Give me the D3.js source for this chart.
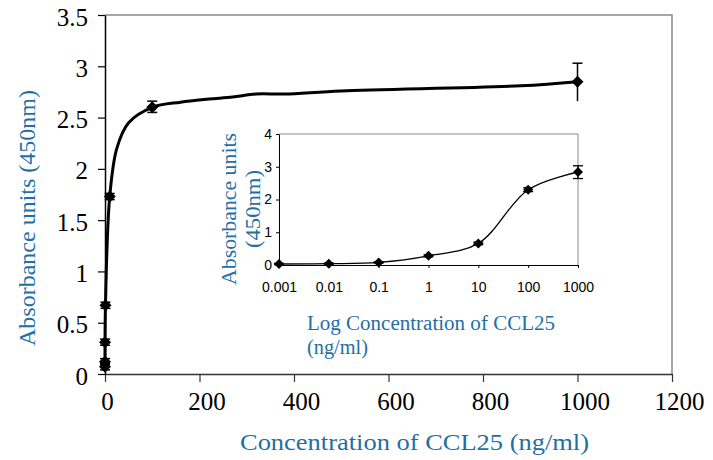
<!DOCTYPE html>
<html>
<head>
<meta charset="utf-8">
<script src="https://cdn.jsdelivr.net/npm/d3@7"></script>
<style>
  body { margin: 0; background: #fff; }
  svg { display: block; }
  .serif { font-family: 'Liberation Serif', 'Times New Roman', Times, 'DejaVu Serif', serif; }
  .sans { font-family: 'Liberation Sans', Arial, Helvetica, sans-serif; }
</style>
</head>
<body>
<svg id="chart" width="713" height="460"></svg>
<script>
// CCL25 standard curve, main plot + log inset

// main plot data
var mainConc  = [0.001, 0.01, 0.1, 1, 10, 100, 1000];
var mainAbs   = [0.07, 0.12, 0.31, 0.67, 1.73, 2.6, 2.85];
var mainErrHi = [0.03, 0.03, 0.03, 0.03, 0.03, 0.06, 0.18];
var mainErrLo = [0.03, 0.03, 0.03, 0.03, 0.03, 0.05, 0.19];

// smoothed trend line of main plot
var fitConc = [0, 1, 10, 25, 50, 100, 160, 220, 270, 320, 380, 500, 880, 1000];
var fitAbs  = [0.07, 0.67, 1.73, 2.2, 2.45, 2.6, 2.65, 2.68, 2.70, 2.73, 2.73, 2.76, 2.81, 2.85];

// inset (log scale) data
var insetConc  = [0.001, 0.01, 0.1, 1, 10, 100, 1000];
var insetAbs   = [0.03, 0.04, 0.08, 0.28, 0.66, 2.3, 2.84];
var insetErrHi = [0.02, 0.02, 0.02, 0.03, 0.04, 0.06, 0.19];
var insetErrLo = [0.02, 0.02, 0.02, 0.03, 0.04, 0.06, 0.20];

var mainXTicks  = [0, 200, 400, 600, 800, 1000, 1200];
var mainYTicks  = [0, 0.5, 1, 1.5, 2, 2.5, 3, 3.5];
var insetXTicks = [0.001, 0.01, 0.1, 1, 10, 100, 1000];
var insetXLabels = ['0.001', '0.01', '0.1', '1', '10', '100', '1000'];
var insetYTicks = [0, 1, 2, 3, 4];

var BLUE = '#1f6fa6';

var svg = d3.select('#chart');

function zipData(xs, ys, hi, lo) {
  return xs.map(function(x, i) {
    return { x: x, y: ys[i], hi: hi ? hi[i] : 0, lo: lo ? lo[i] : 0 };
  });
}

function diamond(g, pts, x, y, r) {
  g.selectAll('path.mk').data(pts).enter().append('path')
    .attr('class', 'mk')
    .attr('d', function(d) {
      var cx = x(d.x), cy = y(d.y);
      return 'M' + cx + ',' + (cy - r) + 'L' + (cx + r) + ',' + cy +
             'L' + cx + ',' + (cy + r) + 'L' + (cx - r) + ',' + cy + 'Z';
    })
    .attr('fill', '#000');
}

function errorBars(g, pts, x, y, cap, sw, topOnly) {
  var eb = g.selectAll('g.eb').data(pts).enter().append('g').attr('class', 'eb')
    .attr('stroke', '#000').attr('stroke-width', sw);
  eb.append('line')
    .attr('x1', function(d) { return x(d.x); }).attr('x2', function(d) { return x(d.x); })
    .attr('y1', function(d) { return y(d.y + d.hi); }).attr('y2', function(d) { return y(d.y - d.lo); });
  eb.append('line')
    .attr('x1', function(d) { return x(d.x) - cap; }).attr('x2', function(d) { return x(d.x) + cap; })
    .attr('y1', function(d) { return y(d.y + d.hi); }).attr('y2', function(d) { return y(d.y + d.hi); });
  eb.filter(function(d, i) { return !topOnly || i < pts.length - 1; }).append('line')
    .attr('x1', function(d) { return x(d.x) - cap; }).attr('x2', function(d) { return x(d.x) + cap; })
    .attr('y1', function(d) { return y(d.y - d.lo); }).attr('y2', function(d) { return y(d.y - d.lo); });
}

// ---------- main plot ----------
var mx = d3.scaleLinear().domain([0, 1200]).range([105, 672]);
var my = d3.scaleLinear().domain([0, 3.5]).range([374, 15]);

var main = svg.append('g').attr('class', 'main');

// top + right frame (grey)
main.append('path')
  .attr('d', 'M' + mx(0) + ',' + my(3.5) + 'H' + mx(1200) + 'V' + my(0))
  .attr('fill', 'none').attr('stroke', '#8a8a8a').attr('stroke-width', 1.5);

var xAxis = main.append('g').attr('transform', 'translate(0,' + my(0) + ')')
  .call(d3.axisBottom(mx).tickValues(mainXTicks).tickSize(8).tickPadding(10).tickSizeOuter(0)
    .tickFormat(d3.format('d')));
xAxis.attr('font-family', null);
xAxis.select('.domain').attr('stroke', '#333').attr('stroke-width', 1.5);
xAxis.selectAll('.tick line').attr('stroke', '#333').attr('stroke-width', 1.2);
xAxis.selectAll('.tick text')
  .attr('class', 'serif').attr('font-size', 25).attr('fill', '#000')
  .attr('dx', function(d) { return d === 0 ? 2 : 7; });

var yAxis = main.append('g').attr('transform', 'translate(' + mx(0) + ',0)')
  .call(d3.axisLeft(my).tickValues(mainYTicks).tickSize(7).tickPadding(10).tickSizeOuter(0)
    .tickFormat(function(d) { return String(d); }));
yAxis.attr('font-family', null);
yAxis.select('.domain').attr('stroke', '#000').attr('stroke-width', 1.5);
yAxis.selectAll('.tick line').attr('stroke', '#000').attr('stroke-width', 1.2);
yAxis.selectAll('.tick text')
  .attr('class', 'serif').attr('font-size', 25).attr('fill', '#000').attr('dy', '0.4em');

// trend line
var fitLine = d3.line()
  .x(function(d) { return mx(d.x); })
  .y(function(d) { return my(d.y); })
  .curve(d3.curveCatmullRom.alpha(0.5));
main.append('path')
  .datum(zipData(fitConc, fitAbs))
  .attr('d', fitLine)
  .attr('fill', 'none').attr('stroke', '#000').attr('stroke-width', 3);

var mainPts = zipData(mainConc, mainAbs, mainErrHi, mainErrLo);
errorBars(main, mainPts, mx, my, 5, 1.5, true);
diamond(main, mainPts, mx, my, 6);

// axis titles
main.append('text')
  .attr('class', 'serif')
  .attr('x', 240).attr('y', 450)
  .attr('textLength', 349).attr('lengthAdjust', 'spacingAndGlyphs')
  .attr('font-size', 24).attr('fill', BLUE)
  .text('Concentration of CCL25 (ng/ml)');

main.append('text')
  .attr('class', 'serif')
  .attr('transform', 'translate(35,218) rotate(-90)')
  .attr('text-anchor', 'middle')
  .attr('font-size', 24).attr('fill', BLUE)
  .text('Absorbance units (450nm)');

// ---------- inset ----------
var ix = d3.scaleLog().domain([0.001, 1000]).range([279, 578]);
var iy = d3.scaleLinear().domain([0, 4]).range([265, 134]);

var inset = svg.append('g').attr('class', 'inset');

inset.append('path')
  .attr('d', 'M' + ix(0.001) + ',' + iy(4) + 'H' + ix(1000) + 'V' + iy(0))
  .attr('fill', 'none').attr('stroke', '#8a8a8a').attr('stroke-width', 1);

var ixAxis = inset.append('g').attr('transform', 'translate(0,' + iy(0) + ')')
  .call(d3.axisBottom(ix).tickValues(insetXTicks).tickSize(3).tickPadding(14).tickSizeOuter(0)
    .tickFormat(function(d, i) { return insetXLabels[i]; }));
ixAxis.attr('font-family', null);
ixAxis.select('.domain').attr('stroke', '#000').attr('stroke-width', 1);
ixAxis.selectAll('.tick line').attr('stroke', '#000');
ixAxis.selectAll('.tick text')
  .attr('class', 'sans').attr('font-size', 14).attr('fill', '#000');

var iyAxis = inset.append('g').attr('transform', 'translate(' + ix(0.001) + ',0)')
  .call(d3.axisLeft(iy).tickValues(insetYTicks).tickSize(3).tickPadding(4).tickSizeOuter(0)
    .tickFormat(d3.format('d')));
iyAxis.attr('font-family', null);
iyAxis.select('.domain').attr('stroke', '#000').attr('stroke-width', 1);
iyAxis.selectAll('.tick line').attr('stroke', '#000');
iyAxis.selectAll('.tick text')
  .attr('class', 'sans').attr('font-size', 14).attr('fill', '#000');

var insetLine = d3.line()
  .x(function(d) { return ix(d.x); })
  .y(function(d) { return iy(d.y); })
  .curve(d3.curveCatmullRom.alpha(0.5));
var insetPts = zipData(insetConc, insetAbs, insetErrHi, insetErrLo);
inset.append('path')
  .datum(insetPts)
  .attr('d', insetLine)
  .attr('fill', 'none').attr('stroke', '#000').attr('stroke-width', 1.3);

errorBars(inset, insetPts, ix, iy, 5, 1.3, false);
diamond(inset, insetPts, ix, iy, 5);

// inset titles
var iyt = inset.append('text')
  .attr('class', 'serif')
  .attr('transform', 'translate(0,209) rotate(-90)')
  .attr('text-anchor', 'middle')
  .attr('font-size', 20).attr('fill', BLUE);
iyt.append('tspan').attr('x', 0).attr('y', 236)
  .attr('textLength', 152).attr('lengthAdjust', 'spacingAndGlyphs')
  .text('Absorbance units');
iyt.append('tspan').attr('x', 0).attr('y', 260)
  .attr('textLength', 78).attr('lengthAdjust', 'spacingAndGlyphs')
  .text('(450nm)');

inset.append('text')
  .attr('class', 'serif')
  .attr('x', 307).attr('y', 330)
  .attr('textLength', 248).attr('lengthAdjust', 'spacingAndGlyphs')
  .attr('font-size', 20).attr('fill', BLUE)
  .text('Log Concentration of CCL25');
inset.append('text')
  .attr('class', 'serif')
  .attr('x', 307).attr('y', 354)
  .attr('textLength', 61).attr('lengthAdjust', 'spacingAndGlyphs')
  .attr('font-size', 20).attr('fill', BLUE)
  .text('(ng/ml)');
</script>
</body>
</html>
